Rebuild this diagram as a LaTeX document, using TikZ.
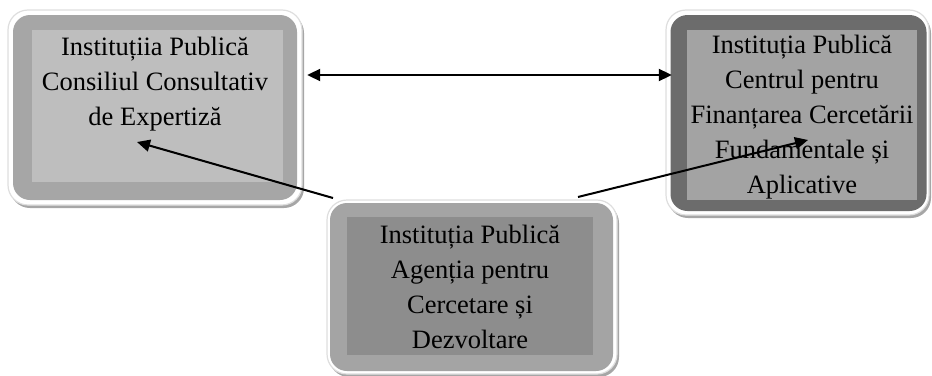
\documentclass[tikz,border=0pt]{standalone}
\usepackage{fontspec}
\setmainfont{Liberation Serif}
\usetikzlibrary{arrows.meta,calc}
\definecolor{lout}{HTML}{A6A6A6}
\definecolor{lin}{HTML}{BEBEBE}
\definecolor{rout}{HTML}{6C6C6C}
\definecolor{rin}{HTML}{A3A3A3}
\definecolor{bout}{HTML}{A4A4A4}
\definecolor{bin}{HTML}{8D8D8D}
\begin{document}
\begin{tikzpicture}[x=1pt,y=-1pt,
  halo/.style={draw=black!13, line width=1.2pt, fill=white, rounded corners=20pt},
  shadowbox/.style={fill=black!35, rounded corners=20pt},
  outerbox/.style={rounded corners=17pt, inner sep=0pt, draw=none},
  innerbox/.style={inner sep=0pt, draw=none},
  boxtext/.style={font=\fontsize{26.5}{35}\selectfont, align=center, text=black, inner sep=0pt},
  arr/.style={line width=2pt, -{Triangle[length=13pt,width=12pt]}},
  dblarr/.style={line width=2pt, {Triangle[length=13pt,width=12pt]}-{Triangle[length=13pt,width=12pt]}}]
\useasboundingbox (0,0) rectangle (932,375);
% left box
\fill[shadowbox] (10,13) rectangle (304,208);
\draw[halo] (8,10) rectangle (302,205);
\node[outerbox, fill=lout, minimum width=284pt, minimum height=185pt] (L) at (155,107.5) {};
\node[innerbox, fill=lin, minimum width=251pt, minimum height=152pt] (Li) at (157.5,106) {};
\node[boxtext] (Lt) at (155,84) {Instituțiia Publică\\Consiliul Consultativ\\de Expertiză};
% right box
\fill[shadowbox] (668,13) rectangle (931,218);
\draw[halo] (666,10) rectangle (929,215);
\node[outerbox, fill=rout, minimum width=256pt, minimum height=196pt] (R) at (798.5,113) {};
\node[innerbox, fill=rin, minimum width=230pt, minimum height=170pt] (Ri) at (802,115) {};
\node[boxtext] (Rt) at (802,117) {Instituția Publică\\Centrul pentru\\Finanțarea Cercetării\\Fundamentale și\\Aplicative};
% arrows between left and right, and to them
\coordinate (hl) at ($(L.east)+(10,-32.5)$);
\coordinate (hr) at ($(R.west)+(1.5,-38)$);
\draw[dblarr] (hl) -- (hr);
\coordinate (sl) at (333,198);
\coordinate (el) at (137,142);
\coordinate (sr) at (578,197);
\coordinate (er) at (808,140);
\draw[arr] (sl) -- (el);
\draw[arr] (sr) -- (er);
% bottom box
\fill[shadowbox] (329,203) rectangle (619,377);
\draw[halo] (327,200) rectangle (617,374);
\node[outerbox, fill=bout, minimum width=283pt, minimum height=168pt] (B) at (471.5,287) {};
\node[innerbox, fill=bin, minimum width=246pt, minimum height=138pt] (Bi) at (470,286) {};
\node[boxtext] (Bt) at (470,287) {Instituția Publică\\Agenția pentru\\Cercetare și\\Dezvoltare};
\end{tikzpicture}
\end{document}
